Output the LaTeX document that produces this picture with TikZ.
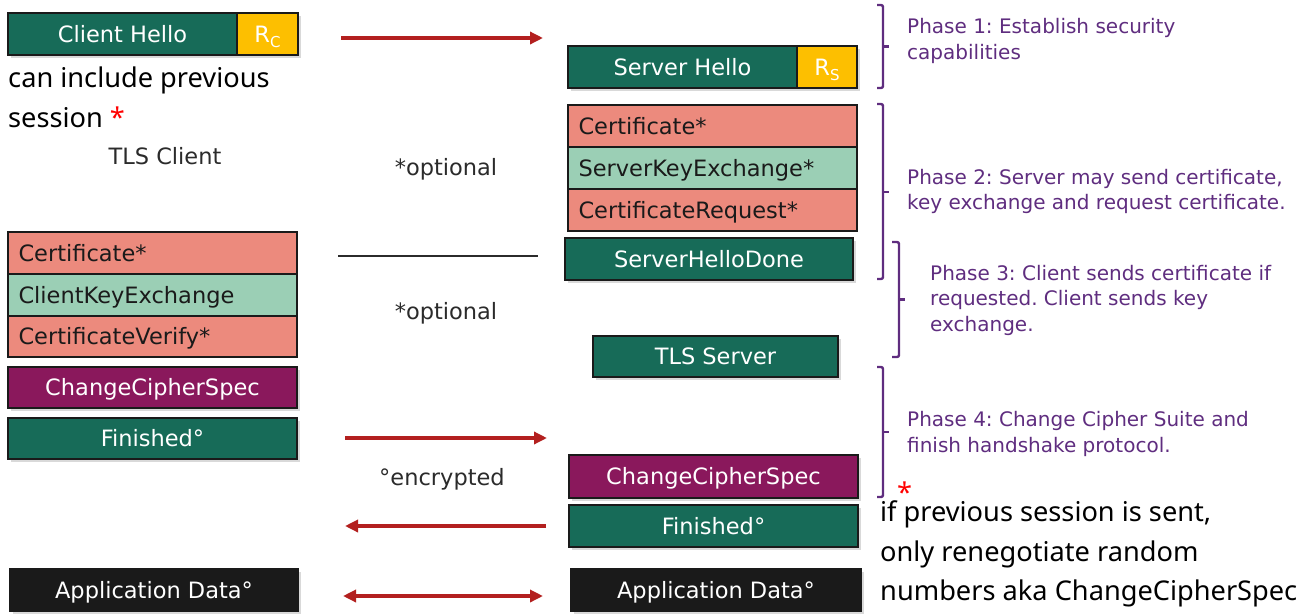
\documentclass[tikz,border=0pt]{standalone}
\usepackage{fontspec}
\setmainfont{DejaVu Sans}
\newfontfamily\notofont{Noto Sans}
\usetikzlibrary{arrows.meta,shadows}
\definecolor{tgreen}{HTML}{176B58}
\definecolor{tyellow}{HTML}{FDBF00}
\definecolor{tsalmon}{HTML}{EC8A7D}
\definecolor{tmint}{HTML}{9BCFB5}
\definecolor{tplum}{HTML}{8A185C}
\definecolor{tblack}{HTML}{1A1A1A}
\definecolor{tred}{HTML}{B3201F}
\definecolor{tpurple}{HTML}{5F2D7F}
\definecolor{tgray}{HTML}{2B2B2B}
\frenchspacing
\tikzset{
  msg/.style={draw=tblack, line width=1.2pt, inner sep=0pt, minimum height=42,
    text=white, text height=16.4pt, text depth=0pt,
    font=\fontsize{22.5}{27}\selectfont,
    drop shadow={shadow xshift=2.5pt, shadow yshift=-3pt, opacity=0.3}},
  stackbox/.style={draw=tblack, line width=1.2pt, inner ysep=0pt, inner xsep=10.5pt,
    minimum height=42, text=tblack, text height=16.4pt, text depth=0pt, align=left,
    font=\fontsize{22.5}{27}\selectfont},
  rbox/.style={msg, fill=tyellow, font=\fontsize{22.5}{27}\selectfont},
  lbl/.style={inner sep=0pt, anchor=base, text=tgray, font=\fontsize{22.5}{27}\selectfont},
  phase/.style={inner sep=0pt, anchor=base west, text=tpurple, font=\fontsize{20}{26}\selectfont},
  note/.style={inner sep=0pt, anchor=base west, text=black, font=\notofont\fontsize{27.2}{40}\selectfont},
  brk/.style={draw=tpurple, line width=2.4pt, rounded corners=2pt},
  redarrow/.style={draw=tred, line width=4pt, -{Triangle[length=13pt,width=12pt]}},
  redboth/.style={draw=tred, line width=4pt, {Triangle[length=13pt,width=12pt]}-{Triangle[length=13pt,width=12pt]}}
}
\newcommand{\rsub}[1]{R\raisebox{-0.22em}{\fontsize{15}{15}\selectfont #1}}
\begin{document}
\begin{tikzpicture}[x=1pt,y=-1pt]
\useasboundingbox (0,0) rectangle (1300,613);

% ---------- client side ----------
\node[msg, fill=tgreen, minimum width=229] (ch) at (122.5,34) {Client Hello};
\node[rbox, minimum width=61] (rc) at (267.5,34) {\rsub{C}};
\node[note] (inc1) at (8,87) {can include previous};
\node[note] (inc2) at (8,127) {session {\color{red}*}};
\node[lbl] (tlsc) at (165,164) {TLS Client};

\node[stackbox, fill=tsalmon, text width=268] (ccert) at (152.5,253) {Certificate*};
\node[stackbox, fill=tmint, text width=268] (ckex) at (152.5,295) {ClientKeyExchange};
\node[stackbox, fill=tsalmon, text width=268, minimum height=41] (cver) at (152.5,336.5) {CertificateVerify*};
\node[msg, fill=tplum, minimum width=289, minimum height=41] (cccs) at (152.5,387.5) {ChangeCipherSpec};
\node[msg, fill=tgreen, minimum width=289, minimum height=41] (cfin) at (152.5,438.5) {Finished°};
\node[msg, fill=tblack, minimum width=288] (capp) at (154,590) {Application Data°};

% ---------- server side ----------
\node[msg, fill=tgreen, minimum width=229] (sh) at (682.5,67) {Server Hello};
\node[rbox, minimum width=60] (rs) at (827,67) {\rsub{S}};
\node[stackbox, fill=tsalmon, text width=268] (scert) at (712.5,126) {Certificate*};
\node[stackbox, fill=tmint, text width=268] (skex) at (712.5,168) {ServerKeyExchange*};
\node[stackbox, fill=tsalmon, text width=268] (sreq) at (712.5,210) {CertificateRequest*};
\node[msg, fill=tgreen, minimum width=288] (sdone) at (709,259) {ServerHelloDone};
\node[msg, fill=tgreen, minimum width=245, minimum height=41] (tlss) at (715.5,356.5) {TLS Server};
\node[msg, fill=tplum, minimum width=289, minimum height=43] (sccs) at (713.5,476.5) {ChangeCipherSpec};
\node[msg, fill=tgreen, minimum width=289] (sfin) at (713.5,526) {Finished°};
\node[msg, fill=tblack, minimum width=290] (sapp) at (716,590) {Application Data°};

% ---------- middle ----------
\node[lbl] (opt1) at (446,175) {*optional};
\node[lbl] (opt2) at (446,319) {*optional};
\node[lbl] (enc) at (442,485) {°encrypted};
\coordinate (sepa) at (338,256);
\coordinate (sepb) at (538,256);
\draw[draw=tgray, line width=1.4pt] (sepa) -- (sepb);

\coordinate (a1s) at (341,38);  \coordinate (a1e) at (543,38);
\coordinate (a2s) at (345,438); \coordinate (a2e) at (547,438);
\coordinate (a3s) at (546,526); \coordinate (a3e) at (345,526);
\coordinate (a4s) at (343,596); \coordinate (a4e) at (543,596);
\draw[redarrow] (a1s) -- (a1e);
\draw[redarrow] (a2s) -- (a2e);
\draw[redarrow] (a3s) -- (a3e);
\draw[redboth] (a4s) -- (a4e);

% ---------- phases ----------
\draw[brk] (877,5) -- (883,5) -- (883,88) -- (877,88);
\draw[brk] (883,46.5) -- (889,46.5);
\node[phase] (p1a) at (907,33) {Phase 1: Establish security};
\node[phase] (p1b) at (907,59) {capabilities};

\draw[brk] (877,104) -- (883,104) -- (883,279) -- (877,279);
\draw[brk] (883,192) -- (889,192);
\node[phase] (p2a) at (907,184) {Phase 2: Server may send certificate,};
\node[phase] (p2b) at (907,209.5) {key exchange and request certificate.};

\draw[brk] (892,242) -- (899,242) -- (899,357) -- (892,357);
\draw[brk] (899,299.5) -- (905,299.5);
\node[phase] (p3a) at (930,280) {Phase 3: Client sends certificate if};
\node[phase] (p3b) at (930,305.5) {requested. Client sends key};
\node[phase] (p3c) at (930,331) {exchange.};

\draw[brk] (877,367) -- (883,367) -- (883,497) -- (877,497);
\draw[brk] (883,432) -- (889,432);
\node[phase] (p4a) at (907,426) {Phase 4: Change Cipher Suite and};
\node[phase] (p4b) at (907,452) {finish handshake protocol.};

\node[note, anchor=base, text=red] (ast) at (904.5,502) {*};
\node[note] (r1) at (880,521) {if previous session is sent,};
\node[note] (r2) at (880,561) {only renegotiate random};
\node[note] (r3) at (880,600) {numbers aka ChangeCipherSpec};
\end{tikzpicture}
\end{document}
